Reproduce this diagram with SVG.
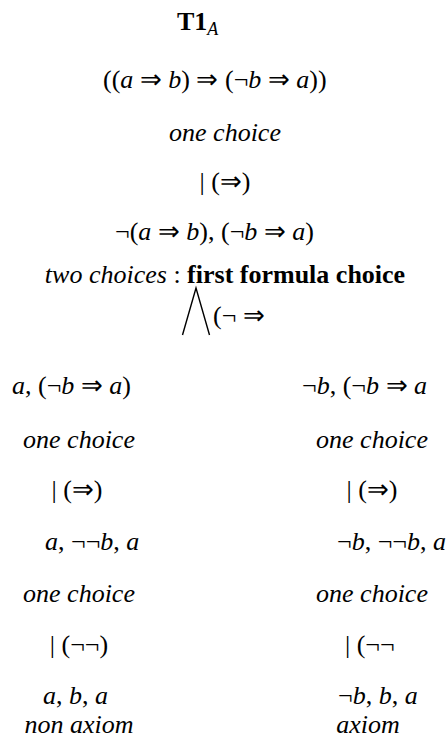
<svg xmlns="http://www.w3.org/2000/svg" width="447" height="738" viewBox="0 0 447 738">
<style>
.m{text-anchor:middle}
.i{font-style:italic}
.b{font-weight:bold}
.sub{font-size:18px;font-style:italic}
.wedge{fill:none;stroke:#000;stroke-width:1.4}
</style>
<rect width="447" height="738" fill="#fff"/>
<g id="title"><text x="177" y="30" font-family="Liberation Serif" font-size="26" style="font-family:'Liberation Serif',serif"><tspan class="b">T1</tspan><tspan class="sub" dy="5">A</tspan></text></g>
<g id="root"><text x="103" y="88" font-family="Liberation Serif" font-size="26" style="font-family:'Liberation Serif',serif">((<tspan class="i">a</tspan> ⇒ <tspan class="i">b</tspan>) ⇒ (¬<tspan class="i">b</tspan> ⇒ <tspan class="i">a</tspan>))</text></g>
<g id="rule1"><text x="225" y="141" class="m i" font-family="Liberation Serif" font-size="26" style="font-family:'Liberation Serif',serif">one choice</text><text x="225" y="190" class="m" font-family="Liberation Serif" font-size="26" style="font-family:'Liberation Serif',serif">| (⇒)</text></g>
<g id="n1"><text x="115" y="240" font-family="Liberation Serif" font-size="26" style="font-family:'Liberation Serif',serif">¬(<tspan class="i">a</tspan> ⇒ <tspan class="i">b</tspan>), (¬<tspan class="i">b</tspan> ⇒ <tspan class="i">a</tspan>)</text></g>
<g id="rule2"><text x="225" y="283" class="m" font-family="Liberation Serif" font-size="26" style="font-family:'Liberation Serif',serif"><tspan class="i">two choices</tspan> :  <tspan class="b">first formula choice</tspan></text>
<text x="213" y="324" font-family="Liberation Serif" font-size="26" style="font-family:'Liberation Serif',serif">(¬ ⇒</text></g>
<g id="connectors"><polyline class="wedge" points="182.5,335 196,288 209.5,335"/></g>
<g id="left">
<text x="12" y="394" font-family="Liberation Serif" font-size="26" style="font-family:'Liberation Serif',serif"><tspan class="i">a</tspan>, (¬<tspan class="i">b</tspan> ⇒ <tspan class="i">a</tspan>)</text>
<text x="79" y="448" class="m i" font-family="Liberation Serif" font-size="26" style="font-family:'Liberation Serif',serif">one choice</text>
<text x="77" y="498" class="m" font-family="Liberation Serif" font-size="26" style="font-family:'Liberation Serif',serif">| (⇒)</text>
<text x="45" y="550" font-family="Liberation Serif" font-size="26" style="font-family:'Liberation Serif',serif"><tspan class="i">a</tspan>, ¬¬<tspan class="i">b</tspan>, <tspan class="i">a</tspan></text>
<text x="79" y="602" class="m i" font-family="Liberation Serif" font-size="26" style="font-family:'Liberation Serif',serif">one choice</text>
<text x="79" y="653" class="m" font-family="Liberation Serif" font-size="26" style="font-family:'Liberation Serif',serif">| (¬¬)</text>
<text x="43" y="704" font-family="Liberation Serif" font-size="26" style="font-family:'Liberation Serif',serif"><tspan class="i">a</tspan>, <tspan class="i">b</tspan>, <tspan class="i">a</tspan></text>
<text x="79" y="733" class="m i" font-family="Liberation Serif" font-size="26" style="font-family:'Liberation Serif',serif">non axiom</text>
</g>
<g id="right">
<text x="302" y="394" font-family="Liberation Serif" font-size="26" style="font-family:'Liberation Serif',serif">¬<tspan class="i">b</tspan>, (¬<tspan class="i">b</tspan> ⇒ <tspan class="i">a</tspan></text>
<text x="372" y="448" class="m i" font-family="Liberation Serif" font-size="26" style="font-family:'Liberation Serif',serif">one choice</text>
<text x="372" y="498" class="m" font-family="Liberation Serif" font-size="26" style="font-family:'Liberation Serif',serif">| (⇒)</text>
<text x="337" y="550" font-family="Liberation Serif" font-size="26" style="font-family:'Liberation Serif',serif">¬<tspan class="i">b</tspan>, ¬¬<tspan class="i">b</tspan>, <tspan class="i">a</tspan></text>
<text x="372" y="602" class="m i" font-family="Liberation Serif" font-size="26" style="font-family:'Liberation Serif',serif">one choice</text>
<text x="345" y="653" font-family="Liberation Serif" font-size="26" style="font-family:'Liberation Serif',serif">| (¬¬</text>
<text x="338" y="704" font-family="Liberation Serif" font-size="26" style="font-family:'Liberation Serif',serif">¬<tspan class="i">b</tspan>, <tspan class="i">b</tspan>, <tspan class="i">a</tspan></text>
<text x="368" y="733" class="m i" font-family="Liberation Serif" font-size="26" style="font-family:'Liberation Serif',serif">axiom</text>
</g>
</svg>
